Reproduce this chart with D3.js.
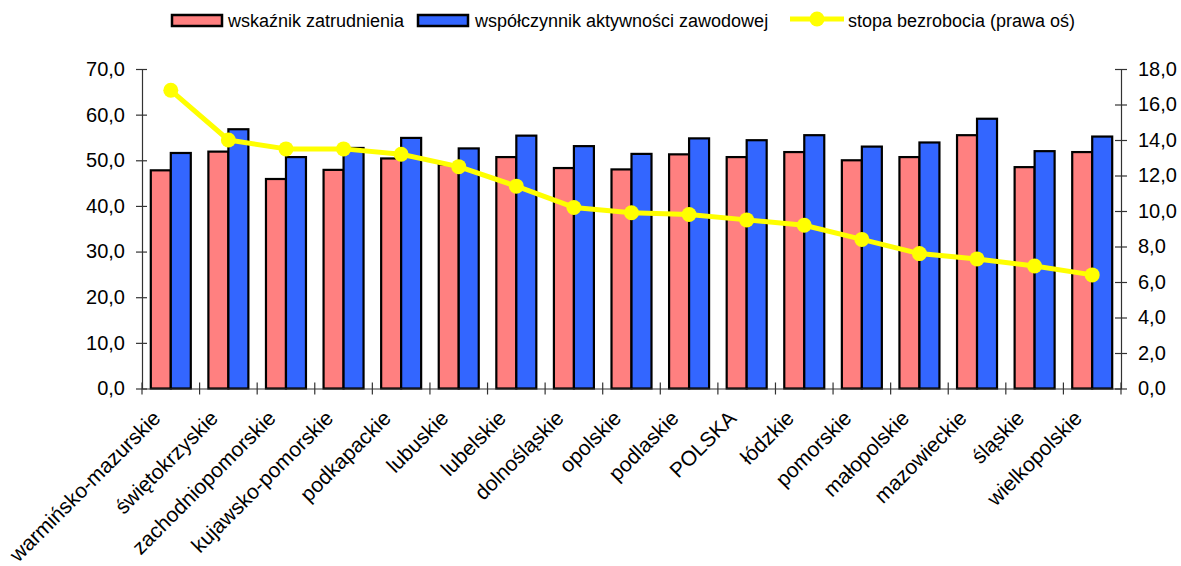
<!DOCTYPE html>
<html>
<head>
<meta charset="utf-8">
<script src="https://cdn.jsdelivr.net/npm/d3@7"></script>
<style>
  html, body { margin: 0; padding: 0; background: #fff; }
  svg { display: block; font-family: "Liberation Sans", Arial, sans-serif; }
</style>
</head>
<body>
<svg id="chart" width="1181" height="566"></svg>
<script>
const categories = ["warmińsko-mazurskie","świętokrzyskie","zachodniopomorskie","kujawsko-pomorskie","podkapackie","lubuskie","lubelskie","dolnośląskie","opolskie","podlaskie","POLSKA","łódzkie","pomorskie","małopolskie","mazowieckie","śląskie","wielkopolskie"];
const zatrudnienie = [47.8, 51.9, 45.9, 47.9, 50.4, 49.1, 50.7, 48.3, 48.0, 51.3, 50.7, 51.8, 50.0, 50.7, 55.5, 48.5, 51.8];
const aktywnosc    = [51.6, 56.8, 50.7, 52.7, 54.9, 52.6, 55.4, 53.1, 51.4, 54.8, 54.4, 55.5, 53.0, 53.9, 59.1, 52.0, 55.2];
const bezrobocie   = [16.8, 14.0, 13.5, 13.5, 13.2, 12.5, 11.4, 10.2, 9.9, 9.8, 9.5, 9.2, 8.4, 7.6, 7.3, 6.9, 6.4];
const leftTicks  = [0, 10, 20, 30, 40, 50, 60, 70];
const rightTicks = [0, 2, 4, 6, 8, 10, 12, 14, 16, 18];
const seriesNames = ["wskaźnik zatrudnienia", "współczynnik aktywności zawodowej", "stopa bezrobocia (prawa oś)"];

const svg = d3.select("#chart");
const plot = { left: 142, right: 1121, top: 69, bottom: 388.5 };
const fmt = d => d3.format(".1f")(d).replace(".", ",");

const x = d3.scaleBand().domain(categories).range([plot.left, plot.right]).padding(0);
const inner = d3.scaleBand().domain(["z", "a"]).range([0, x.bandwidth()]).paddingInner(0).paddingOuter(0.44);
const yL = d3.scaleLinear().domain([0, 70]).range([plot.bottom, plot.top]);
const yR = d3.scaleLinear().domain([0, 18]).range([plot.bottom, plot.top]);

// bars
const bars = svg.append("g");
const series = [{ key: "z", vals: zatrudnienie, color: "#FF8080" }, { key: "a", vals: aktywnosc, color: "#3366FF" }];
series.forEach(s => {
  bars.selectAll(null).data(categories).enter().append("rect")
    .attr("x", (c) => x(c) + inner(s.key))
    .attr("y", (c, i) => yL(s.vals[i]))
    .attr("width", inner.bandwidth())
    .attr("height", (c, i) => yL(0) - yL(s.vals[i]))
    .attr("fill", s.color)
    .attr("stroke", "#000")
    .attr("stroke-width", 2.2);
});

// axes
const axisColor = "#333";
const gL = svg.append("g").attr("transform", `translate(${plot.left},0)`)
  .call(d3.axisLeft(yL).tickValues(leftTicks).tickFormat(fmt).tickSizeInner(6).tickSizeOuter(0).tickPadding(11));
gL.selectAll(".tick line").attr("x2", 5).attr("x1", -6);
const gR = svg.append("g").attr("transform", `translate(${plot.right},0)`)
  .call(d3.axisRight(yR).tickValues(rightTicks).tickFormat(fmt).tickSizeInner(6).tickSizeOuter(0).tickPadding(11));
gR.selectAll(".tick line").attr("x1", -6).attr("x2", 6);
const gB = svg.append("g").attr("transform", `translate(0,${plot.bottom})`)
  .call(d3.axisBottom(x).tickSize(0).tickSizeOuter(0).tickFormat(""));
[gL, gR, gB].forEach(g => {
  g.select(".domain").attr("stroke", axisColor).attr("stroke-width", 1.2);
  g.selectAll(".tick line").attr("stroke", axisColor).attr("stroke-width", 1.2);
  g.selectAll(".tick text").attr("fill", "#000").style("font-size", "20px").style("font-family", "Liberation Sans, Arial, sans-serif");
});
// category boundary ticks (crossing)
const bounds = categories.map(c => x(c)).concat([plot.right]);
gB.selectAll(".bt").data(bounds).enter().append("line")
  .attr("x1", d => d).attr("x2", d => d).attr("y1", -6).attr("y2", 6)
  .attr("stroke", axisColor).attr("stroke-width", 1.2);
// category labels
gB.selectAll(".cl").data(categories).enter().append("text")
  .attr("transform", c => `translate(${x(c) + x.bandwidth() / 2 - 9},${31}) rotate(-45)`)
  .attr("text-anchor", "end")
  .style("font-size", "21px")
  .attr("fill", "#000")
  .text(c => c);

// line
const line = d3.line().x((d, i) => x(categories[i]) + x.bandwidth() / 2).y(d => yR(d));
svg.append("path").datum(bezrobocie).attr("d", line)
  .attr("fill", "none").attr("stroke", "#FFFF00").attr("stroke-width", 5).attr("stroke-linejoin", "round");
svg.selectAll(".pt").data(bezrobocie).enter().append("circle")
  .attr("cx", (d, i) => x(categories[i]) + x.bandwidth() / 2)
  .attr("cy", d => yR(d))
  .attr("r", 7.5).attr("fill", "#FFFF00");

// legend
const leg = svg.append("g").style("font-size", "18px");
const legItems = [
  { name: seriesNames[0], type: "rect", color: "#FF8080", x: 172, tx: 228 },
  { name: seriesNames[1], type: "rect", color: "#3366FF", x: 418, tx: 475 },
  { name: seriesNames[2], type: "line", color: "#FFFF00", x: 790, tx: 848 }
];
legItems.forEach(it => {
  if (it.type === "rect") {
    leg.append("rect").attr("x", it.x).attr("y", 15).attr("width", 50).attr("height", 11)
      .attr("fill", it.color).attr("stroke", "#000").attr("stroke-width", 2.5);
  } else {
    leg.append("line").attr("x1", it.x).attr("x2", it.x + 54).attr("y1", 19).attr("y2", 19)
      .attr("stroke", it.color).attr("stroke-width", 5);
    leg.append("circle").attr("cx", it.x + 27).attr("cy", 19).attr("r", 7.5).attr("fill", it.color);
  }
  leg.append("text").attr("x", it.tx).attr("y", 27).attr("fill", "#000").text(it.name);
});
</script>
</body>
</html>
